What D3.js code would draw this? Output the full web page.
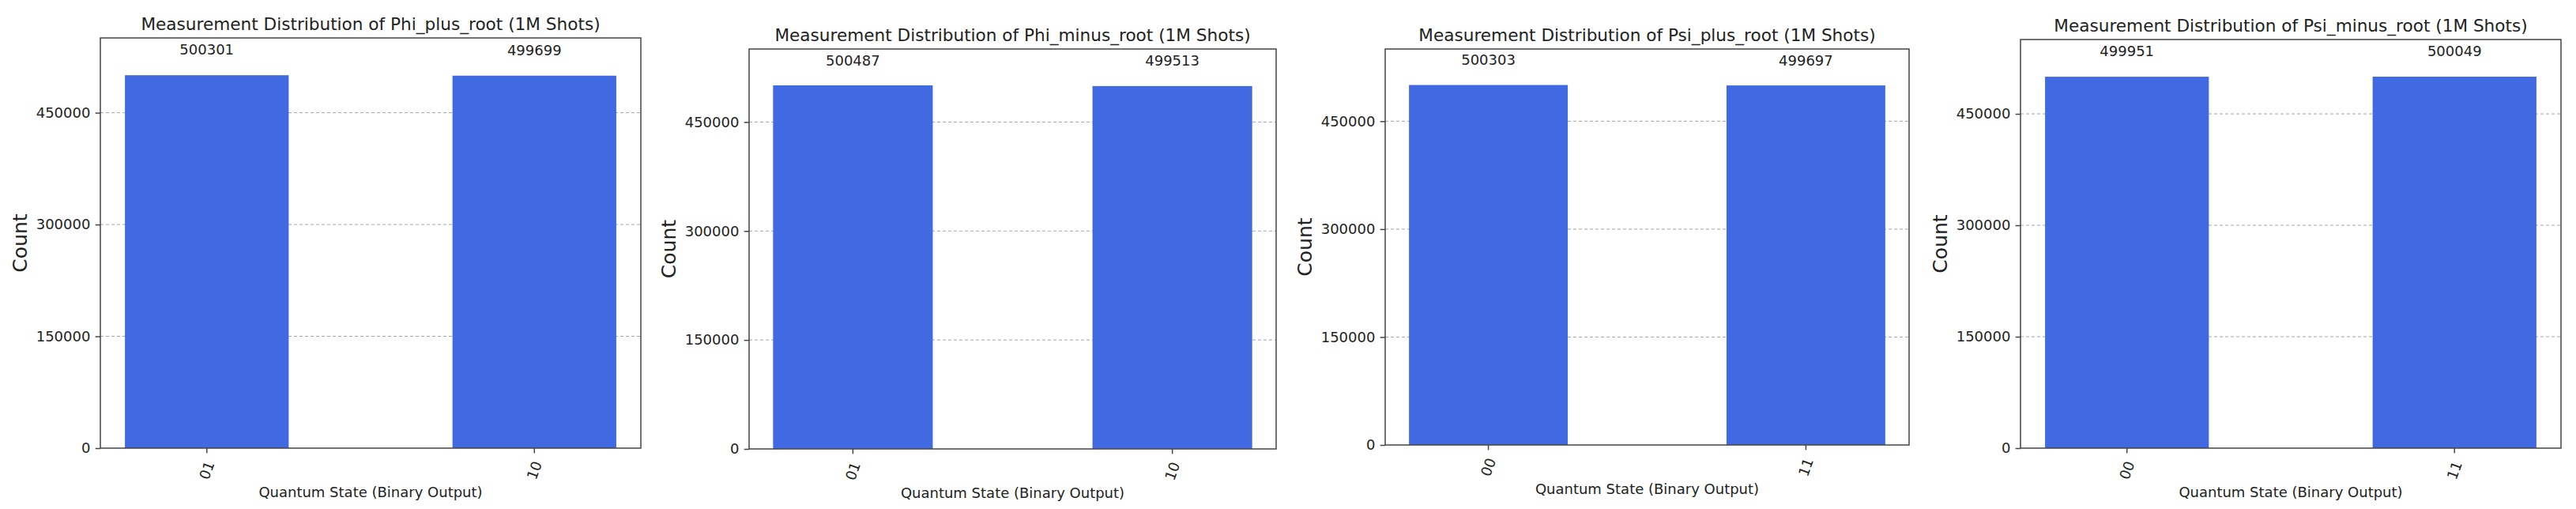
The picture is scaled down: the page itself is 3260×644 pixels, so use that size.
<!DOCTYPE html>
<html>
<head>
<meta charset="utf-8">
<script src="https://cdn.jsdelivr.net/npm/d3@7"></script>
<style>
  html, body { margin: 0; padding: 0; background: #fff; }
  svg text { font-family: "DejaVu Sans", sans-serif; fill: #222; }
</style>
</head>
<body>
<div class="charts"></div>
<script>
// data
var stateNames = ["Phi_plus_root", "Phi_minus_root", "Psi_plus_root", "Psi_minus_root"];
var outcomes = [["01", "10"], ["01", "10"], ["00", "11"], ["00", "11"]];
var counts = [[500301, 499699], [500487, 499513], [500303, 499697], [499951, 500049]];
var yTicks = [0, 150000, 300000, 450000];
var shotsLabel = "1M";

// where each of the four axes boxes sits on the page
var boxes = [
  {l: 127, r: 811, t: 48, b: 567},
  {l: 948, r: 1615, t: 62, b: 568},
  {l: 1753, r: 2416, t: 62, b: 563},
  {l: 2557, r: 3241, t: 50, b: 567}
];

var W = 3260, H = 644;
var spineColor = "#444", barColor = "#4169e1";
var tickLen = 6.3, tickPad = 6.3;

var svg = d3.select(".charts").append("svg")
  .attr("width", W)
  .attr("height", H);

boxes.forEach(function(box, p){
  var data = outcomes[p].map(function(s, i){ return {state: s, count: counts[p][i]}; });
  var maxCount = d3.max(counts[p]);

  var x = d3.scaleBand()
    .domain(outcomes[p])
    .range([box.l, box.r])
    .paddingInner(0.5)
    .paddingOuter(0.075);

  var y = d3.scaleLinear()
    .domain([0, maxCount * 1.1])
    .range([box.b, box.t]);

  var g = svg.append("g").attr("class", "panel");

  // dashed grid, behind the bars
  g.append("g").selectAll("line")
    .data(yTicks.filter(function(d){ return d > 0; }))
    .enter().append("line")
      .attr("x1", box.l)
      .attr("x2", box.r)
      .attr("y1", function(d){ return y(d); })
      .attr("y2", function(d){ return y(d); })
      .attr("stroke", "#a4a4a4")
      .attr("stroke-width", 1)
      .attr("stroke-dasharray", "4,3");

  g.append("g").selectAll("rect")
    .data(data)
    .enter().append("rect")
      .attr("x", function(d){ return x(d.state); })
      .attr("width", x.bandwidth())
      .attr("y", function(d){ return y(d.count); })
      .attr("height", function(d){ return y(0) - y(d.count); })
      .attr("fill", barColor);

  // count above each bar
  g.append("g").selectAll("text")
    .data(data)
    .enter().append("text")
      .attr("x", function(d){ return x(d.state) + x.bandwidth() / 2; })
      .attr("y", function(d){ return y(d.count + maxCount * 0.05) - 2.5; })
      .attr("text-anchor", "middle")
      .style("font-size", "18px")
      .text(function(d){ return d.count; });

  // y axis
  var yAxis = g.append("g")
    .attr("transform", "translate(" + box.l + ",0)")
    .call(d3.axisLeft(y).tickValues(yTicks).tickFormat(d3.format("d"))
      .tickSize(tickLen).tickPadding(tickPad));
  yAxis.select(".domain").remove();
  yAxis.selectAll(".tick line").attr("stroke", spineColor).attr("stroke-width", 1.5);
  yAxis.selectAll(".tick text")
    .attr("font-family", null)
    .attr("font-size", null)
    .style("font-size", "18px");

  // x axis, labels turned 70 degrees
  var xAxis = g.append("g")
    .attr("transform", "translate(0," + box.b + ")")
    .call(d3.axisBottom(x).tickSize(tickLen).tickPadding(tickPad));
  xAxis.select(".domain").remove();
  xAxis.selectAll(".tick line").attr("stroke", spineColor).attr("stroke-width", 1.5);
  xAxis.selectAll(".tick text")
    .attr("font-family", null)
    .attr("font-size", null)
    .style("font-size", "18px")
    .attr("y", 0)
    .attr("dy", "0.35em")
    .attr("text-anchor", "middle")
    .attr("transform", "translate(0,28) rotate(-70)");

  // frame
  g.append("rect")
    .attr("x", box.l)
    .attr("y", box.t)
    .attr("width", box.r - box.l)
    .attr("height", box.b - box.t)
    .attr("fill", "none")
    .attr("stroke", spineColor)
    .attr("stroke-width", 1.5);

  g.append("text")
    .attr("x", (box.l + box.r) / 2)
    .attr("y", box.t - 10.5)
    .attr("text-anchor", "middle")
    .style("font-size", "21.6px")
    .text("Measurement Distribution of " + stateNames[p] + " (" + shotsLabel + " Shots)");

  g.append("text")
    .attr("x", (box.l + box.r) / 2)
    .attr("y", box.b + 62)
    .attr("text-anchor", "middle")
    .style("font-size", "18px")
    .text("Quantum State (Binary Output)");

  g.append("text")
    .attr("transform", "translate(" + (box.l - 93) + "," + ((box.t + box.b) / 2) + ") rotate(-90)")
    .attr("text-anchor", "middle")
    .style("font-size", "25px")
    .text("Count");
});
</script>
</body>
</html>
